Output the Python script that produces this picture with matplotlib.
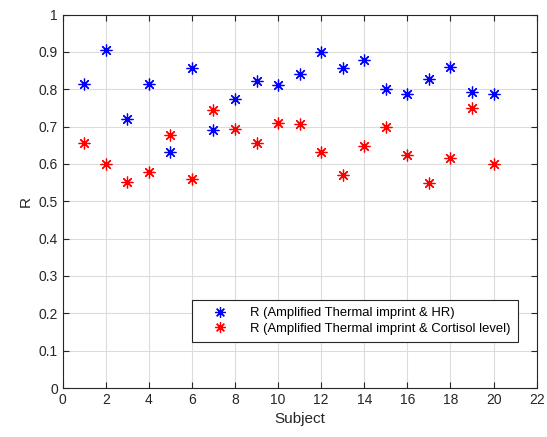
import matplotlib.pyplot as plt
import numpy as np

plt.rcParams['font.family'] = ['Liberation Sans', 'DejaVu Sans']

subjects = np.arange(1, 21)
r_hr = [0.815, 0.905, 0.720, 0.813, 0.631, 0.858, 0.690, 0.773, 0.821, 0.810,
        0.842, 0.899, 0.857, 0.879, 0.800, 0.788, 0.828, 0.860, 0.792, 0.788]
r_cortisol = [0.655, 0.600, 0.551, 0.578, 0.677, 0.559, 0.743, 0.694, 0.655, 0.710,
              0.707, 0.631, 0.570, 0.647, 0.698, 0.624, 0.550, 0.617, 0.751, 0.600]

label_hr = 'R (Amplified Thermal imprint & HR)'
label_cort = 'R (Amplified Thermal imprint & Cortisol level)'

dark = '#262626'

fig = plt.figure(figsize=(5.47, 4.37), dpi=100)
ax = fig.add_axes([0.1146, 0.1121, 0.8665, 0.8547])

star = (8, 2, 0)
ax.plot(subjects, r_hr, linestyle='none', marker=star, color='#0000ff',
        markersize=8.5, markeredgewidth=0.9, label=label_hr, zorder=3)
ax.plot(subjects, r_cortisol, linestyle='none', marker=star, color='#ff0000',
        markersize=8.5, markeredgewidth=0.9, label=label_cort, zorder=3)

ax.set_xlim(0, 22)
ax.set_ylim(0, 1)
ax.set_xticks(np.arange(0, 23, 2))
ax.set_yticks(np.arange(0, 1.01, 0.1))
ax.set_yticklabels(['0', '0.1', '0.2', '0.3', '0.4', '0.5', '0.6', '0.7', '0.8', '0.9', '1'])

ax.grid(True, color='#dcdcdc', linewidth=0.8)
ax.set_axisbelow(True)
ax.tick_params(direction='in', top=True, right=True, length=4, width=0.8,
               colors=dark, labelsize=10)
for s in ax.spines.values():
    s.set_color(dark)
    s.set_linewidth(0.8)

ax.set_xlabel('Subject', fontsize=11, color=dark)
ax.set_ylabel('R', fontsize=11, color=dark)

leg = ax.legend(loc='lower right', bbox_to_anchor=(0.9606, 0.123), borderaxespad=0,
                fontsize=9.4, fancybox=False, framealpha=1, edgecolor=dark,
                handlelength=3.2, handletextpad=0.7, borderpad=0.55,
                labelspacing=0.25, markerscale=0.9)
leg.get_frame().set_linewidth(0.8)

fig.savefig('out.png', dpi=100)
